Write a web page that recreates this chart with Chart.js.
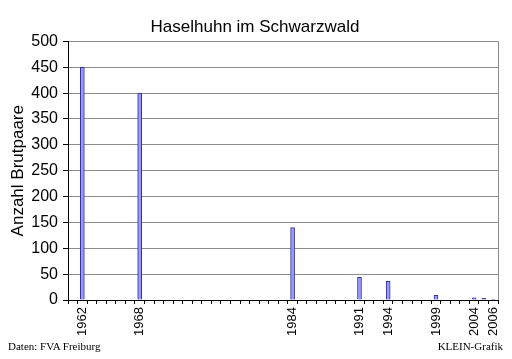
<!DOCTYPE html>
<html><head><meta charset="utf-8">
<script src="https://cdn.jsdelivr.net/npm/chart.js@4/dist/chart.umd.min.js"></script>
<style>
html,body{margin:0;padding:0;background:#fff;}
#wrap{position:relative;width:512px;height:359px;}
canvas{position:absolute;left:0;top:0;}
.note{position:absolute;font-family:"Liberation Serif","Times New Roman",serif;font-size:11px;color:#000;top:340px;}
</style></head>
<body><div id="wrap"><canvas id="c" width="512" height="359"></canvas>
<div class="note" style="left:8px;">Daten: FVA Freiburg</div>
<div class="note" style="right:9px;">KLEIN-Grafik</div></div>
<script>
// Categories along the x axis (one slot per year as in the original; one year between 1999 and 2004 absent)
const years = ["1961","1962","1963","1964","1965","1966","1967","1968","1969","1970","1971","1972","1973","1974","1975","1976","1977","1978","1979","1980","1981","1982","1983","1984","1985","1986","1987","1988","1989","1990","1991","1992","1993","1994","1995","1996","1997","1998","1999","2000","2002","2003","2004","2005","2006"];
// Years with a label on the axis
const tickLabels = ["1962","1968","1984","1991","1994","1999","2004","2006"];
// Breeding pairs observed
const surveyYears = ["1962","1968","1984","1991","1994","1999","2004","2005","2006"];
const pairs = [450, 400, 140, 44, 36, 9, 4, 3, 2];

const values = years.map(y => { const i = surveyYears.indexOf(y); return i >= 0 ? pairs[i] : null; });

const frame = {
  id: 'frame',
  afterDraw(chart) {
    const a = chart.chartArea, ctx = chart.ctx;
    ctx.save();
    ctx.strokeStyle = '#8c8c8c'; ctx.lineWidth = 1;
    ctx.beginPath();
    ctx.moveTo(Math.round(a.right) + 0.5, a.top);
    ctx.lineTo(Math.round(a.right) + 0.5, a.bottom);
    ctx.stroke();
    ctx.restore();
  }
};

new Chart(document.getElementById('c'), {
  type: 'bar',
  data: { labels: years, datasets: [{ data: values, backgroundColor: '#9999ff', borderColor: '#333399', borderWidth: 1, barThickness: 4 }] },
  options: {
    responsive: false, animation: false,
    layout: { padding: { left: 8, right: 10, top: 0, bottom: 0 } },
    plugins: {
      legend: { display: false }, tooltip: { enabled: false },
      title: { display: true, text: 'Haselhuhn im Schwarzwald', color: '#000',
        font: { family: 'Liberation Sans', size: 17, weight: 'normal' }, padding: { top: 17, bottom: 4 } }
    },
    scales: {
      x: {
        afterFit(s) { s.height = 59; },
        grid: { drawOnChartArea: false, drawTicks: true, tickLength: 4, color: '#000', offset: true },
        border: { color: '#000' },
        ticks: { autoSkip: false, minRotation: 90, maxRotation: 90, padding: 3, color: '#000',
          font: { family: 'Liberation Sans', size: 13 },
          callback(v) { const l = years[v]; return tickLabels.includes(l) ? l : ''; } }
      },
      y: {
        min: 0, max: 500,
        afterFit(s) { s.width = 60; },
        ticks: { stepSize: 50, color: '#000', padding: 5, font: { family: 'Liberation Sans', size: 16 } },
        grid: { color: '#8c8c8c', tickLength: 5, tickColor: '#000' },
        border: { color: '#000' },
        title: { display: true, text: 'Anzahl Brutpaare', color: '#000', padding: 0,
          font: { family: 'Liberation Sans', size: 17 } }
      }
    }
  },
  plugins: [frame]
});
</script></body></html>
